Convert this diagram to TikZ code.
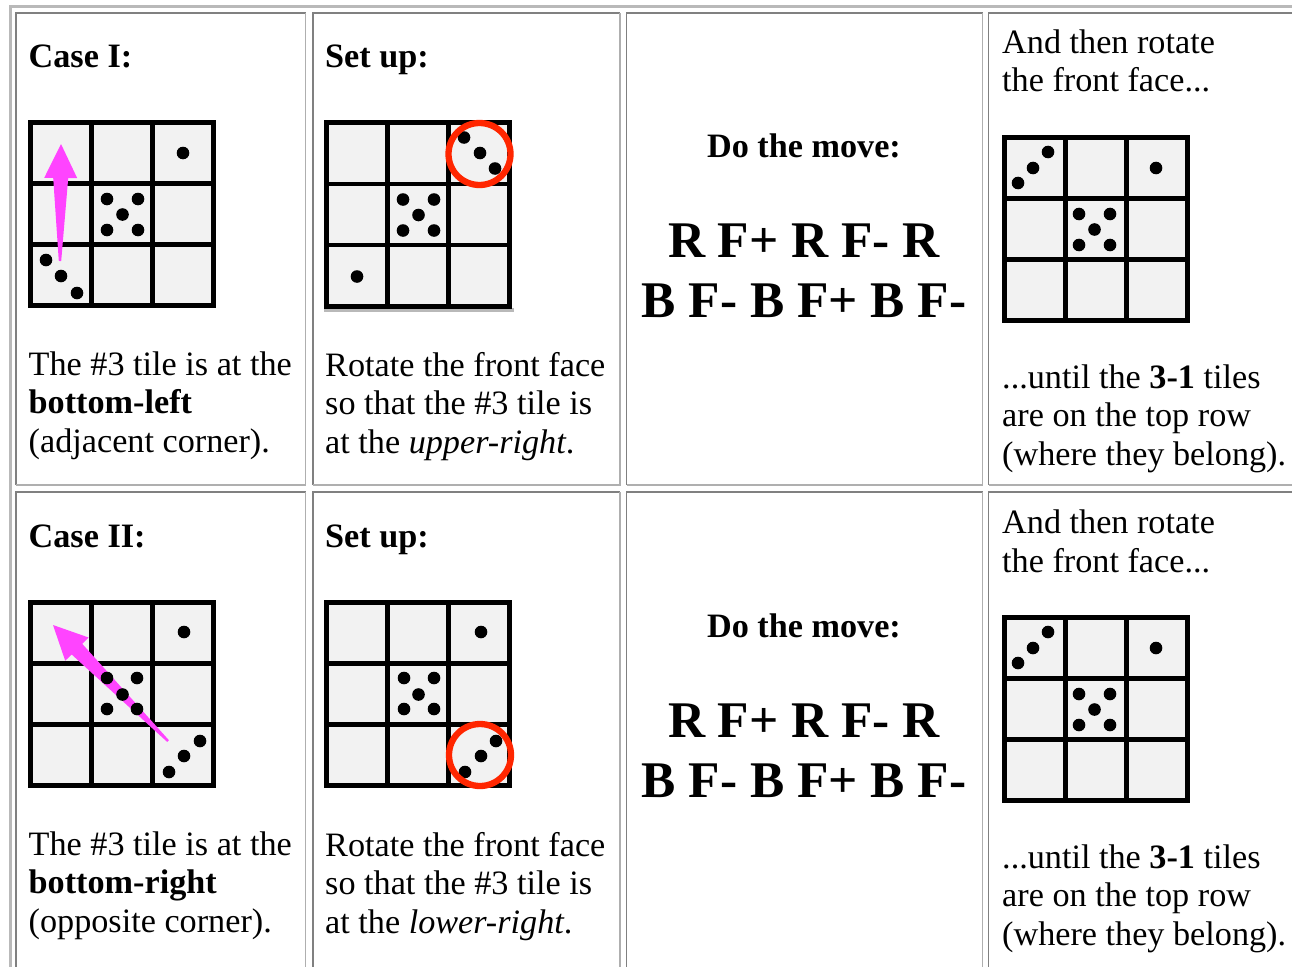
\documentclass[tikz,border=0pt]{standalone}
\usepackage{fontspec}
\setmainfont{Liberation Serif}
\usetikzlibrary{calc}
\definecolor{tilegray}{RGB}{242,242,242}
\definecolor{arrowpink}{RGB}{255,68,255}
\definecolor{ringred}{RGB}{255,38,0}
\definecolor{celldark}{RGB}{128,128,128}
\definecolor{celllight}{RGB}{175,175,175}
\definecolor{tableborder}{RGB}{185,185,185}

\newcommand{\tilegrid}[2]{%
  \begin{scope}[shift={(#1,#2)}]
    \fill[tilegray] (0,0) rectangle (188,188);
    \draw[gridline] (2.25,2.25) rectangle (185.75,185.75)
      (63.4,0) -- (63.4,188) (124.6,0) -- (124.6,188)
      (0,63.4) -- (188,63.4) (0,124.6) -- (188,124.6);
  \end{scope}}
\newcommand{\pipsat}[3]{%
  \begin{scope}[shift={(#1,#2)}]
    \foreach \px/\py in {#3} {\fill[black] (\px,\py) circle (6.3pt);}
  \end{scope}}
\newcommand{\pinkarrow}[3]{%
  \coordinate (#1t) at #2;
  \coordinate (#1h) at #3;
  \coordinate (#1b) at ($(#1h)!34pt!(#1t)$);
  \fill[arrowpink] ($(#1t)!1.2pt!90:(#1h)$) -- ($(#1b)!7.5pt!90:(#1h)$)
    -- ($(#1b)!16.5pt!90:(#1h)$) -- (#1h) -- ($(#1b)!16.5pt!-90:(#1h)$)
    -- ($(#1b)!7.5pt!-90:(#1h)$) -- ($(#1t)!1.2pt!-90:(#1h)$) -- cycle;}
\newcommand{\cellbox}[4]{%
  \draw[celldark, line width=1.6pt] (#1,#4) |- (#3,#2);
  \draw[celllight, line width=1.6pt] (#1,#4) -| (#3,#2);}

\tikzset{
  gridline/.style={draw=black, line width=4.7pt},
  body/.style={anchor=base west, inner sep=0pt, font=\fontsize{34.2}{39}\selectfont},
  head/.style={anchor=base west, inner sep=0pt, font=\fontsize{34.2}{39}\selectfont\bfseries},
  headc/.style={anchor=base, inner sep=0pt, font=\fontsize{34.2}{39}\selectfont\bfseries},
  moves/.style={anchor=base, inner sep=0pt, font=\fontsize{51.4}{60}\selectfont\bfseries},
  ring/.style={draw=ringred, line width=6.3pt},
}

\begin{document}
\begin{tikzpicture}[x=1pt, y=-1pt]
\useasboundingbox (0,0) rectangle (1292,966);
\clip (0,0) rectangle (1292,966);
\fill[white] (0,0) rectangle (1292,966);

% table border
\draw[tableborder, line width=3pt] (10.3,1100) |- (1400,6.5);

% cells
\cellbox{16}{13}{305.5}{485}
\cellbox{313}{13}{620}{485}
\cellbox{626.5}{13}{982.5}{485}
\cellbox{988.5}{13}{1320}{485}
\cellbox{16}{492}{305.5}{1010}
\cellbox{313}{492}{620}{1010}
\cellbox{626.5}{492}{982.5}{1010}
\cellbox{988.5}{492}{1320}{1010}

% ---------- Row 1 ----------
\node[head] (c1title) at (28.5,67) {Case I:};
\tilegrid{28}{120}
\pinkarrow{aone}{(60,261)}{(61,144)}
\pipsat{28}{120}{155/33, 79/79, 110/79, 94.5/94.5, 79/110, 110/110, 18/140, 33/156, 49/173}
\node[body] (c1l1) at (28.5,375) {The \#3 tile is at the};
\node[body] (c1l2) at (28.5,413.5) {\textbf{bottom-left}};
\node[body] (c1l3) at (28.5,452) {(adjacent corner).};

\node[head] (c2title) at (325,67) {Set up:};
\fill[gray!55] (324,308) rectangle (514,311.5);
\tilegrid{324}{120.5}
\pipsat{324}{120.5}{140/17, 156/32.5, 171/48, 79/79, 110/79, 94.5/94.5, 79/110, 110/110, 33/156}
\draw[ring] (479.5,154) circle (31pt);
\node[body] (c2l1) at (325,376) {Rotate the front face};
\node[body] (c2l2) at (325,414.5) {so that the \#3 tile is};
\node[body] (c2l3) at (325,453) {at the \textit{upper-right}.};

\node[headc] (c3title) at (804,157) {Do the move:};
\node[moves] (c3m1) at (804,257) {R F+ R F- R};
\node[moves] (c3m2) at (804,317) {B F- B F+ B F-};

\node[body] (c4l1) at (1002,53.5) {And then rotate};
\node[body] (c4l2) at (1002,92) {the front face...};
\tilegrid{1002}{135}
\pipsat{1002}{135}{16/48, 31/33, 46/17, 154/33, 77/79, 108/79, 92.5/94.5, 77/110, 108/110}
\node[body] (c4l3) at (1002,388) {...until the \textbf{3-1} tiles};
\node[body] (c4l4) at (1002,426.5) {are on the top row};
\node[body] (c4l5) at (1002,465) {(where they belong).};

% ---------- Row 2 ----------
\node[head] (d1title) at (28.5,547) {Case II:};
\tilegrid{28}{600}
\pinkarrow{atwo}{(168,741)}{(53,625)}
\pipsat{28}{600}{156/32, 79/78, 109/78, 94.5/94.5, 79/109, 109/109, 141/172, 156/156, 172/141}
\node[body] (d1l1) at (28.5,855) {The \#3 tile is at the};
\node[body] (d1l2) at (28.5,893.5) {\textbf{bottom-right}};
\node[body] (d1l3) at (28.5,932) {(opposite corner).};

\node[head] (d2title) at (325,547) {Set up:};
\tilegrid{324}{600}
\pipsat{324}{600}{157/32, 80/78, 110/78, 94.5/94.5, 80/109, 110/109, 141/172, 157/156, 172/141}
\draw[ring] (480,755) circle (31pt);
\node[body] (d2l1) at (325,856) {Rotate the front face};
\node[body] (d2l2) at (325,894.5) {so that the \#3 tile is};
\node[body] (d2l3) at (325,933) {at the \textit{lower-right}.};

\node[headc] (d3title) at (804,637) {Do the move:};
\node[moves] (d3m1) at (804,737) {R F+ R F- R};
\node[moves] (d3m2) at (804,797) {B F- B F+ B F-};

\node[body] (d4l1) at (1002,533.5) {And then rotate};
\node[body] (d4l2) at (1002,572) {the front face...};
\tilegrid{1002}{615}
\pipsat{1002}{615}{16/48, 31/33, 46/17, 154/33, 77/79, 108/79, 92.5/94.5, 77/110, 108/110}
\node[body] (d4l3) at (1002,868) {...until the \textbf{3-1} tiles};
\node[body] (d4l4) at (1002,906.5) {are on the top row};
\node[body] (d4l5) at (1002,945) {(where they belong).};
\end{tikzpicture}
\end{document}
